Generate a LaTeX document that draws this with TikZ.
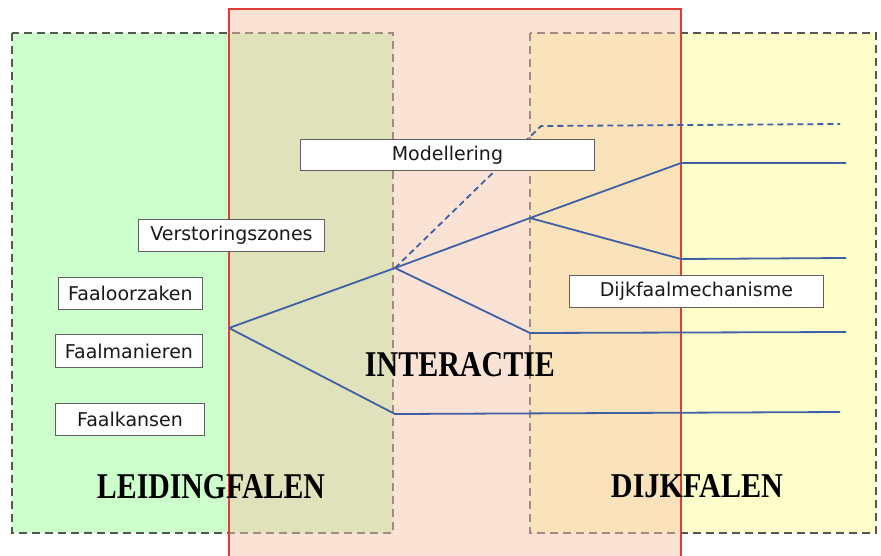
\documentclass[tikz,border=0pt]{standalone}
\usepackage{fontspec}
\setmainfont{DejaVu Sans}
\newfontfamily\titlefont{Liberation Serif}
\usepackage{graphicx}
\definecolor{greenfill}{RGB}{204,255,204}
\definecolor{yellowfill}{RGB}{255,255,204}
\definecolor{salmonfill}{RGB}{245,196,171}
\definecolor{redline}{RGB}{224,60,60}
\definecolor{dashgray}{RGB}{85,85,85}
\definecolor{treeblue}{RGB}{62,96,166}
\definecolor{boxgray}{RGB}{95,95,95}
\tikzset{
  zonebox/.style={draw=dashgray, line width=1.2pt, dash pattern=on 8pt off 5pt},
  interzone/.style={fill=salmonfill, fill opacity=0.49},
  interborder/.style={draw=redline, line width=1.2pt, draw opacity=1},
  labelbox/.style={draw=boxgray, line width=0.9pt, fill=white, inner sep=0pt, anchor=north west,
    font=\fontsize{19}{22}\selectfont, text=black!90},
  branch/.style={draw=treeblue, line width=1.8pt, line join=round},
  dashbranch/.style={branch, dash pattern=on 6pt off 4pt},
  title/.style={inner sep=0pt, text=black}
}
\begin{document}
\begin{tikzpicture}[x=1pt,y=-1pt]
\useasboundingbox (0,0) rectangle (881,555);
\clip (0,0) rectangle (881,555);
\fill[white] (0,0) rectangle (881,555);
% zones
\filldraw[zonebox, fill=greenfill] (12,33) rectangle (393,533);
\filldraw[zonebox, fill=yellowfill] (530,33) rectangle (876,533);
\fill[interzone] (229,9) rectangle (681,575);
\draw[interborder] (229,575) -- (229,9) -- (681,9) -- (681,575);
% tree
\coordinate (root) at (229,328);
\coordinate (a) at (395,268);
\coordinate (b) at (395,414);
\coordinate (c) at (530,218);
\coordinate (d) at (530,333);
\coordinate (e) at (681,163);
\coordinate (f) at (681,259);
\coordinate (g) at (541,126);
\coordinate (eend) at (846,163);
\coordinate (fend) at (846,258);
\coordinate (dend) at (846,332);
\coordinate (bend) at (840,412);
\coordinate (gend) at (840,124);
\draw[branch] (root) -- (a);
\draw[branch] (root) -- (b) -- (bend);
\draw[branch] (a) -- (c);
\draw[branch] (a) -- (d) -- (dend);
\draw[branch] (c) -- (e) -- (eend);
\draw[branch] (c) -- (f) -- (fend);
\draw[dashbranch] (a) -- (g) -- (gend);
% label boxes
\node[labelbox, minimum width=294pt, minimum height=31pt] (modellering) at (300,139) {Modellering};
\node[labelbox, minimum width=186pt, minimum height=32pt] (verstoring) at (138,219) {Verstoringszones};
\node[labelbox, minimum width=144pt, minimum height=32pt] (oorzaken) at (58,277) {Faaloorzaken};
\node[labelbox, minimum width=147pt, minimum height=33pt] (manieren) at (55,334) {Faalmanieren};
\node[labelbox, minimum width=149pt, minimum height=32pt] (kansen) at (55,403) {Faalkansen};
\node[labelbox, minimum width=254pt, minimum height=32pt] (mechanisme) at (569,275) {Dijkfaalmechanisme};
% titles
\node[title] (leiding) at (211,487) {\resizebox{228pt}{24pt}{\titlefont\bfseries LEIDINGFALEN}};
\node[title] (interactie) at (460,365) {\resizebox{190pt}{24pt}{\titlefont\bfseries INTERACTIE}};
\node[title] (dijk) at (697,486.5) {\resizebox{172pt}{23pt}{\titlefont\bfseries DIJKFALEN}};
\end{tikzpicture}
\end{document}
